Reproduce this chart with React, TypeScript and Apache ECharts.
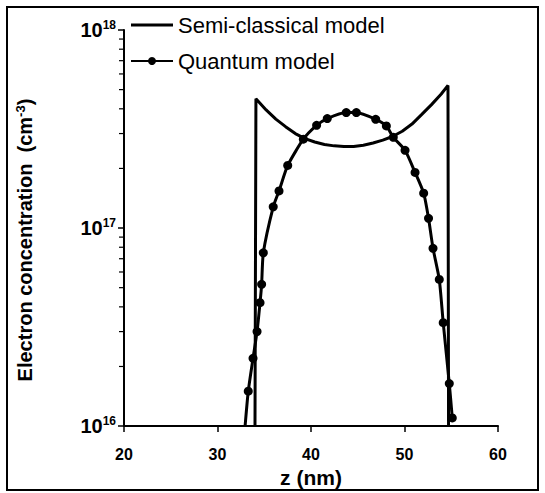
import React, { useEffect, useRef } from "react";
import * as echarts from "echarts";

const xTicks = [20, 30, 40, 50, 60];
const yMajor = [1e16, 1e17, 1e18];
const yMinor = [2e16, 3e16, 4e16, 5e16, 6e16, 7e16, 8e16, 9e16, 2e17, 3e17, 4e17, 5e17, 6e17, 7e17, 8e17, 9e17];

const semiZ = [34.01, 34.11, 35.2, 36.24, 37.28, 38.32, 39.36, 40.4, 41.44, 42.48, 43.52, 44.56, 45.6, 46.64, 47.68, 48.72, 49.76, 50.8, 51.85, 52.89, 53.93, 54.65, 54.71];
const semiN = [1e16, 4.5e17, 3.95e17, 3.55e17, 3.25e17, 3.0e17, 2.83e17, 2.72e17, 2.64e17, 2.6e17, 2.58e17, 2.58e17, 2.62e17, 2.69e17, 2.78e17, 2.9e17, 3.08e17, 3.35e17, 3.75e17, 4.2e17, 4.75e17, 5.25e17, 1e16];

const quantZ = [32.95, 33.29, 33.8, 34.23, 34.55, 34.72, 34.9, 35.96, 36.58, 37.51, 39.18, 40.6, 41.74, 43.77, 44.85, 46.92, 48.06, 48.8, 50.06, 51.13, 52.05, 52.57, 53.05, 53.72, 54.14, 54.79, 55.11];
const quantN = [1e16, 1.5e16, 2.2e16, 3.0e16, 4.2e16, 5.2e16, 7.5e16, 1.28e17, 1.54e17, 2.07e17, 2.81e17, 3.3e17, 3.57e17, 3.83e17, 3.83e17, 3.54e17, 3.28e17, 2.87e17, 2.47e17, 1.91e17, 1.5e17, 1.12e17, 7.9e16, 5.5e16, 3.33e16, 1.64e16, 1.1e16];

const FONT = "'Liberation Sans', Arial, sans-serif";

export default function App() {
  const ref = useRef<HTMLDivElement>(null);
  useEffect(() => {
    if (!ref.current) return;
    const chart = echarts.init(ref.current, null, { renderer: "svg" });
    const semiData = semiZ.map((z, i) => [z, semiN[i]]);
    const quantData = quantZ.map((z, i) =>
      i === 0 ? { value: [z, quantN[i]], symbol: "none" } : [z, quantN[i]]
    );
    chart.setOption({
      animation: false,
      backgroundColor: "#fff",
      textStyle: { fontFamily: FONT },
      grid: { left: 124, right: 47, top: 30, bottom: 65 },
      legend: {
        orient: "vertical",
        left: 130,
        top: 13,
        padding: 0,
        itemGap: 12,
        itemWidth: 42,
        itemHeight: 10,
        data: [
          { name: "Semi-classical model", icon: "path://M0,0H42V3H0Z" },
          { name: "Quantum model" },
        ],
        textStyle: { fontFamily: FONT, fontSize: 22, lineHeight: 24, color: "#000" },
      },
      xAxis: {
        type: "value",
        min: xTicks[0],
        max: xTicks[xTicks.length - 1],
        interval: 10,
        name: "z (nm)",
        nameLocation: "middle",
        nameGap: 34,
        nameTextStyle: { fontFamily: FONT, fontSize: 21, fontWeight: "bold", color: "#000" },
        axisLine: { lineStyle: { color: "#000", width: 2 } },
        axisTick: { show: true, length: 6, lineStyle: { color: "#000", width: 1.5 } },
        axisLabel: { fontFamily: FONT, fontSize: 16, fontWeight: "bold", color: "#000", margin: 20 },
        splitLine: { show: false },
      },
      yAxis: {
        type: "log",
        logBase: 10,
        min: yMajor[0],
        max: yMajor[yMajor.length - 1],
        name: "{a|Electron concentration  (cm}{s|-3}{a|)}",
        nameLocation: "middle",
        nameGap: 88,
        nameTextStyle: {
          padding: [0, 24, 0, 0],
          rich: {
            a: { fontFamily: FONT, fontSize: 20, fontWeight: "bold", color: "#000" },
            s: { fontFamily: FONT, fontSize: 13, fontWeight: "bold", color: "#000", padding: [0, 0, 9, 0] },
          },
        },
        axisLine: { show: true, lineStyle: { color: "#000", width: 2 } },
        axisTick: { show: true, length: 6, lineStyle: { color: "#000", width: 1.5 } },
        axisLabel: {
          margin: 8,
          formatter: (v: number) => `{b|10}{s|${Math.round(Math.log10(v))}}`,
          rich: {
            b: { fontFamily: FONT, fontSize: 20, fontWeight: "bold", color: "#000" },
            s: { fontFamily: FONT, fontSize: 12, fontWeight: "bold", color: "#000", padding: [0, 0, 11, 0] },
          },
        },
        splitLine: { show: false },
      },
      series: [
        {
          name: "Semi-classical model",
          type: "line",
          data: semiData,
          symbol: "none",
          lineStyle: { color: "#000", width: 3 },
          itemStyle: { color: "#000" },
        },
        {
          name: "Quantum model",
          type: "line",
          data: quantData,
          symbol: "circle",
          symbolSize: 9,
          smooth: 0.2,
          lineStyle: { color: "#000", width: 3 },
          itemStyle: { color: "#000" },
        },
        {
          name: "minorTicks",
          type: "custom",
          clip: false,
          silent: true,
          data: yMinor.map((v) => [xTicks[0], v]),
          renderItem: (params: any, api: any) => {
            const p = api.coord([api.value(0), api.value(1)]);
            return {
              type: "line",
              shape: { x1: p[0] - 5, y1: p[1], x2: p[0], y2: p[1] },
              style: { stroke: "#000", lineWidth: 1.2 },
            };
          },
        },
      ],
      graphic: [
        {
          type: "rect",
          shape: { x: 7, y: 7, width: 531, height: 483 },
          style: { fill: "none", stroke: "#000", lineWidth: 2 },
          silent: true,
        },
      ],
    });
    return () => chart.dispose();
  }, []);
  return (
    <div
      ref={ref}
      style={{ position: "absolute", left: 0, top: 0, width: 545, height: 493 }}
    />
  );
}
